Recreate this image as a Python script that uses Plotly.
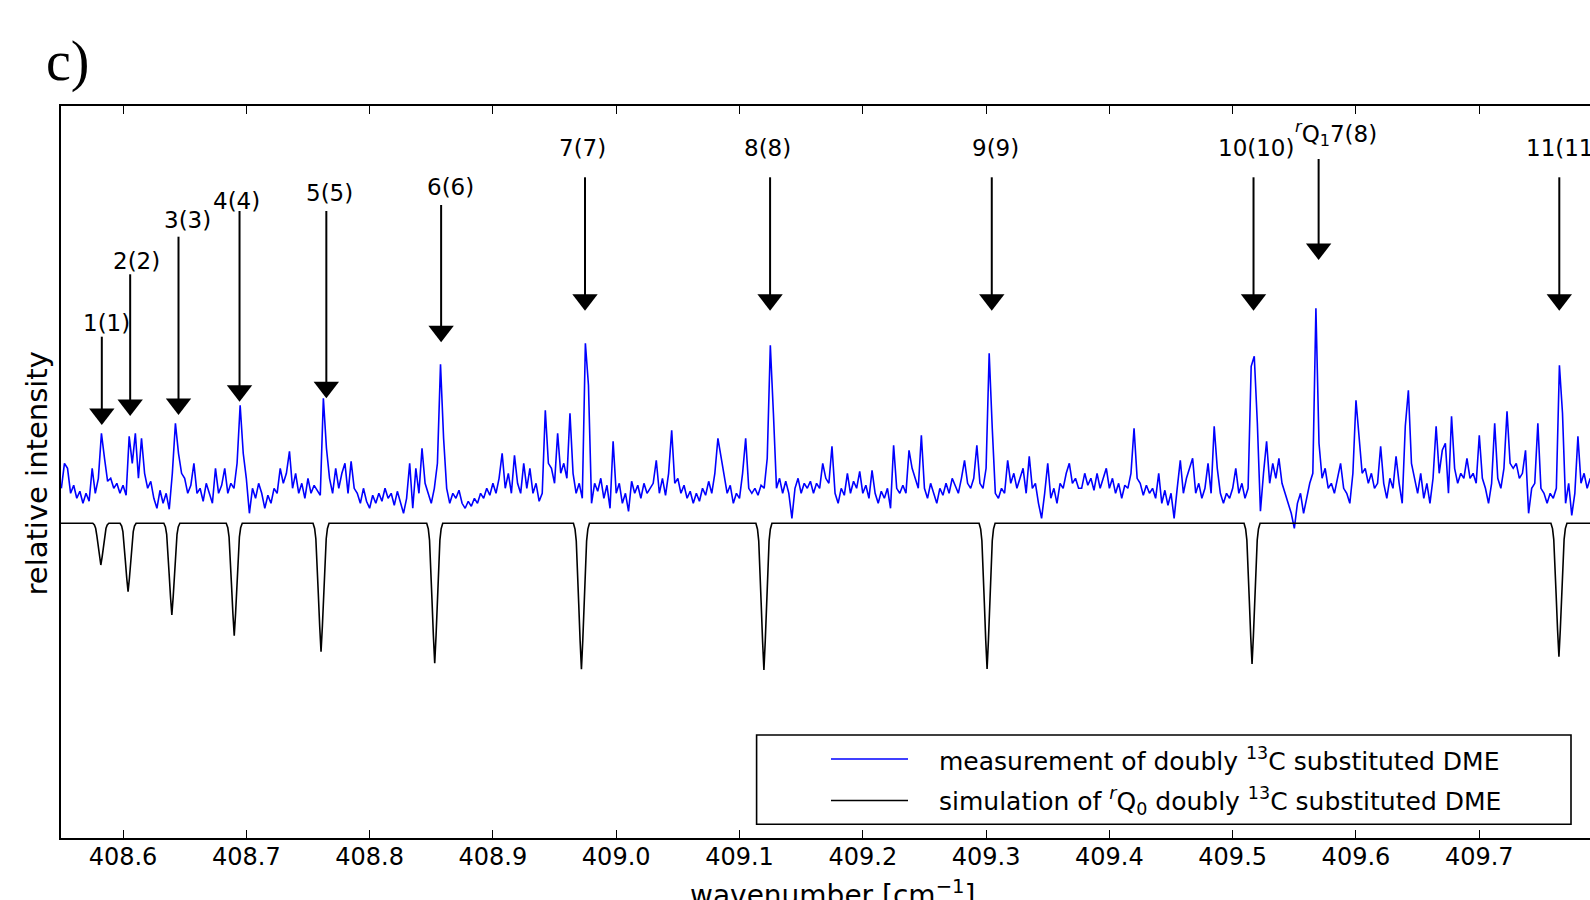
import numpy as np
import plotly.graph_objects as go

# ---------------- data ----------------
# measured spectrum, sampled on a regular wavenumber grid (values read from the picture)
meas_start = 408.55
meas_step = 0.0025
meas_intensity = [
    0.35,0.6,0.55,0.3,0.38,0.25,0.32,0.2,0.3,0.22,
    0.55,0.3,0.45,0.9,0.65,0.42,0.45,0.35,0.4,0.3,
    0.38,0.28,0.87,0.6,0.9,0.45,0.85,0.5,0.35,0.42,
    0.25,0.15,0.33,0.2,0.3,0.14,0.5,1.0,0.7,0.5,
    0.45,0.3,0.38,0.6,0.3,0.35,0.22,0.4,0.3,0.2,
    0.55,0.3,0.38,0.55,0.3,0.4,0.35,0.6,1.18,0.7,
    0.45,0.1,0.35,0.25,0.4,0.3,0.15,0.28,0.2,0.35,
    0.3,0.55,0.4,0.5,0.72,0.35,0.5,0.3,0.4,0.25,
    0.45,0.3,0.38,
    0.33,0.28,1.25,0.75,0.45,0.3,0.55,0.35,0.5,0.6,
    0.3,0.62,0.35,0.3,0.2,0.35,0.22,0.15,0.28,0.2,
    0.3,0.22,0.35,0.25,0.3,0.18,0.32,0.2,0.1,0.25,
    0.6,0.15,0.55,0.3,0.75,0.4,0.3,0.2,0.35,0.6,
    1.59,0.85,0.35,0.2,0.3,0.25,0.33,0.2,0.15,0.22,
    0.17,0.25,0.2,0.3,0.25,0.35,0.28,0.4,0.3,0.45,
    0.7,0.35,0.5,0.3,0.68,0.4,0.3,0.6,0.35,0.55,
    0.3,0.4,0.22,0.3,1.13,0.6,0.55,0.4,0.9,0.5,
    0.6,0.45,1.1,
    0.5,0.3,0.4,0.25,1.8,1.38,0.2,0.4,0.32,0.45,
    0.25,0.38,0.15,0.82,0.3,0.4,0.2,0.3,0.12,0.42,
    0.3,0.38,0.25,0.4,0.3,0.35,0.4,0.63,0.3,0.45,
    0.28,0.5,0.93,0.4,0.45,0.3,0.38,0.25,0.32,0.2,
    0.3,0.22,0.35,0.28,0.42,0.3,0.5,0.85,0.67,0.45,
    0.3,0.38,0.2,0.3,0.25,0.5,0.85,0.35,0.3,0.35,
    0.28,0.38,0.35,0.65,1.78,1.1,0.35,0.45,0.3,0.42,
    0.3,0.05,0.35,0.45,0.3,0.4,0.35,0.42,0.3,0.4,
    0.35,0.6,
    0.45,0.4,0.77,0.3,0.2,0.35,0.28,0.5,0.3,0.42,
    0.35,0.52,0.3,0.38,0.25,0.53,0.3,0.2,0.32,0.25,
    0.35,0.15,0.78,0.35,0.3,0.38,0.3,0.73,0.55,0.45,
    0.35,0.88,0.35,0.25,0.4,0.3,0.2,0.35,0.28,0.4,
    0.3,0.45,0.38,0.3,0.45,0.63,0.4,0.35,0.45,0.78,
    0.4,0.35,0.55,1.7,0.95,0.3,0.25,0.35,0.3,0.63,
    0.4,0.5,0.35,0.45,0.55,0.3,0.67,0.35,0.4,0.2,
    0.05,0.3,0.6,0.25,0.35,0.2,0.4,0.35,0.5,0.6,
    0.4,0.45,0.35,
    0.35,0.5,0.38,0.45,0.33,0.5,0.35,0.45,0.55,0.35,
    0.45,0.3,0.4,0.25,0.38,0.35,0.5,0.95,0.45,0.4,
    0.28,0.38,0.3,0.35,0.25,0.5,0.2,0.33,0.18,0.3,
    0.05,0.35,0.63,0.3,0.45,0.55,0.65,0.3,0.4,0.25,
    0.35,0.6,0.3,0.97,0.55,0.3,0.2,0.3,0.25,0.35,
    0.55,0.3,0.4,0.25,0.35,1.57,1.67,1.0,0.12,0.5,
    0.82,0.4,0.6,0.45,0.65,0.4,0.3,0.2,0.1,-0.05,
    0.2,0.3,0.1,0.25,0.4,0.5,2.15,0.8,0.45,0.55,
    0.35,0.4,0.3,
    0.45,0.6,0.35,0.3,0.2,0.5,1.23,0.9,0.5,0.55,
    0.4,0.5,0.35,0.4,0.77,0.4,0.25,0.45,0.35,0.67,
    0.4,0.2,0.97,1.33,0.6,0.45,0.3,0.5,0.25,0.4,
    0.2,0.45,0.97,0.5,0.73,0.8,0.3,1.07,0.55,0.4,
    0.5,0.45,0.65,0.45,0.5,0.4,0.88,0.45,0.35,0.2,
    0.4,1.0,0.45,0.35,0.55,1.12,0.6,0.55,0.6,0.45,
    0.5,0.73,0.1,0.35,0.4,1.0,0.35,0.3,0.2,0.3,
    0.25,0.35,1.58,1.1,0.2,0.4,0.08,0.3,0.87,0.4,
    0.5,0.35,0.45,
]

# simulated rQ0 lines: centres and depths
sim_centres = [408.5820, 408.6041, 408.6396, 408.6902, 408.7606, 408.8528,
               408.9718, 409.1198, 409.3008, 409.5157, 409.7646]
sim_depths = [0.417, 0.684, 0.917, 1.124, 1.284, 1.400, 1.460, 1.467, 1.457, 1.407, 1.334]
# dip profile: offset from centre [cm-1] and fraction of depth
dip_offsets = [-0.0065, -0.0052, -0.0042, -0.0032, -0.0022, -0.0011, 0.0,
               0.0011, 0.0022, 0.0032, 0.0042, 0.0052, 0.0065]
dip_fraction = [0.0, 0.04, 0.12, 0.30, 0.55, 0.80, 1.0, 0.80, 0.55, 0.30, 0.12, 0.04, 0.0]

# assignment labels
line_labels = ["1(1)", "2(2)", "3(3)", "4(4)", "5(5)", "6(6)", "7(7)", "8(8)",
               "9(9)", "10(10)", "<sup><i>r</i></sup>Q<sub>1</sub>7(8)", "11(11)"]
line_pos = [408.5828, 408.6058, 408.6450, 408.6945, 408.7649, 408.8580,
            408.9747, 409.1248, 409.3046, 409.5169, 409.5697, 409.7649]
arrow_tip = [0.983, 1.073, 1.083, 1.216, 1.250, 1.810, 2.126, 2.126, 2.126, 2.126, 2.633, 2.126]
arrow_tail = [1.866, 2.490, 2.866, 3.123, 3.123, 3.183, 3.460, 3.460, 3.460, 3.460, 3.643, 3.460]
label_x = [408.5869, 408.6112, 408.6523, 408.6924, 408.7673, 408.8655,
           408.9724, 409.1225, 409.3075, 409.5188, 409.5838, 409.7686]
label_y = [2.006, 2.623, 3.033, 3.223, 3.300, 3.366, 3.750, 3.750, 3.750, 3.756, 3.900, 3.750]

tick_vals = [408.6, 408.7, 408.8, 408.9, 409.0, 409.1, 409.2, 409.3, 409.4, 409.5, 409.6, 409.7]
tick_labels = ["408.6", "408.7", "408.8", "408.9", "409.0", "409.1",
               "409.2", "409.3", "409.4", "409.5", "409.6", "409.7"]

x_range = [408.5497, 409.7898]
y_range = [-3.147, 4.173]

meas_name = "measurement of doubly <sup>13</sup>C substituted DME"
sim_name = "simulation of <sup><i>r</i></sup>Q<sub>0</sub> doubly <sup>13</sup>C substituted DME"

# ---------------- build series ----------------
meas_x = meas_start + meas_step * np.arange(len(meas_intensity))

sim_x = [x_range[0]]
sim_y = [0.0]
for c, d in zip(sim_centres, sim_depths):
    for o, f in zip(dip_offsets, dip_fraction):
        sim_x.append(c + o)
        sim_y.append(-d * f)
sim_x.append(x_range[1])
sim_y.append(0.0)

FONT = "DejaVu Sans"
HEAD = 22                      # arrow-head marker size (px)
HEAD_R = (HEAD / 2) / 100.0    # marker centre above the tip, in data units (100 px per unit)

shaft_x, shaft_y = [], []
for xp, tip, tail in zip(line_pos, arrow_tip, arrow_tail):
    shaft_x += [xp, xp, None]
    shaft_y += [tail, tip + HEAD_R, None]

fig = go.Figure()
fig.add_trace(go.Scatter(x=meas_x, y=meas_intensity, mode="lines", name=meas_name,
                         line=dict(color="#0000ff", width=1.6), showlegend=False))
fig.add_trace(go.Scatter(x=sim_x, y=sim_y, mode="lines", name=sim_name,
                         line=dict(color="black", width=1.6), showlegend=False))
fig.add_trace(go.Scatter(x=shaft_x, y=shaft_y, mode="lines", line=dict(color="black", width=2),
                         hoverinfo="skip", showlegend=False))
fig.add_trace(go.Scatter(x=line_pos, y=[t + HEAD_R for t in arrow_tip], mode="markers",
                         marker=dict(symbol="triangle-down", size=HEAD, color="black",
                                     line=dict(width=0)),
                         hoverinfo="skip", showlegend=False))

annotations = []
for lab, lx, ly in zip(line_labels, label_x, label_y):
    annotations.append(dict(x=lx, y=ly, xref="x", yref="y", text=lab, showarrow=False,
                            xanchor="center", yanchor="middle",
                            font=dict(family=FONT, size=23, color="black")))

W, H = 1590, 900
L, R, T, B = 61, 0, 106, 62
pw, ph = W - L - R, H - T - B


def px(xpix):
    return (xpix - L) / pw


def py(ypix):
    return (H - B - ypix) / ph


# panel letter
annotations.append(dict(x=px(44), y=py(62), xref="paper", yref="paper", text="c)", showarrow=False,
                        xanchor="left", yanchor="middle",
                        font=dict(family="Liberation Serif", size=56, color="black")))
# axis titles
annotations.append(dict(x=px(36.5), y=py(474), xref="paper", yref="paper", text="relative intensity",
                        showarrow=False, textangle=-90, xanchor="center", yanchor="middle",
                        font=dict(family=FONT, size=29, color="black")))
annotations.append(dict(x=px(832), y=py(893), xref="paper", yref="paper",
                        text="wavenumber [cm<sup>\u22121</sup>]", showarrow=False,
                        xanchor="center", yanchor="middle",
                        font=dict(family=FONT, size=28, color="black")))

# legend (drawn like the matplotlib legend)
shapes = [dict(type="rect", xref="paper", yref="paper", x0=px(756.6), x1=px(1571), y0=py(824.3), y1=py(735),
               line=dict(color="black", width=1.6), fillcolor="white", layer="above")]
for row_y, col, name in [(759, "#0000ff", meas_name), (800.5, "black", sim_name)]:
    shapes.append(dict(type="line", xref="paper", yref="paper", x0=px(831), x1=px(908), y0=py(row_y), y1=py(row_y),
                       line=dict(color=col, width=1.6), layer="above"))
    annotations.append(dict(x=px(937), y=py(row_y), xref="paper", yref="paper", text=name, showarrow=False,
                            xanchor="left", yanchor="middle",
                            font=dict(family=FONT, size=25, color="black")))

fig.update_layout(
    width=W, height=H,
    margin=dict(l=L, r=R, t=T, b=B, pad=0),
    paper_bgcolor="white", plot_bgcolor="white",
    showlegend=False,
    annotations=annotations,
    shapes=shapes,
    xaxis=dict(range=x_range, tickmode="array", tickvals=tick_vals, ticktext=tick_labels,
               ticks="inside", ticklen=8, tickwidth=1, tickcolor="black",
               showline=True, linecolor="black", linewidth=2, mirror="ticks",
               showgrid=False, zeroline=False, ticklabelstandoff=-4,
               tickfont=dict(family=FONT, size=24, color="black")),
    yaxis=dict(range=y_range, showticklabels=False, ticks="", showline=True, linecolor="black",
               linewidth=2, mirror=False, showgrid=False, zeroline=False),
)

fig.write_html("out.html", config={"displayModeBar": False},
               post_script="document.body.style.margin='0';document.body.style.overflow='hidden';")
